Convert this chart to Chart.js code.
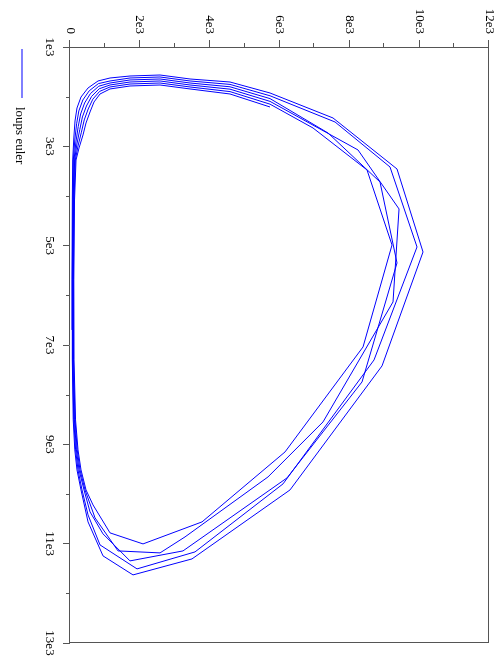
<!DOCTYPE html>
<html>
<head>
<meta charset="utf-8">
<title>loups euler</title>
<script src="https://cdn.jsdelivr.net/npm/chart.js@4.4.1/dist/chart.umd.min.js"></script>
<style>
    html, body { margin: 0; padding: 0; background: #fff; width: 500px; height: 656px; overflow: hidden; }
    /* the plot is drawn landscape and turned a quarter clockwise */
    #plotBox { position: absolute; left: 0; top: 0; width: 656px; height: 500px;
               transform-origin: 0 0; transform: translateX(500px) rotate(90deg); }
</style>
</head>
<body>
<div id="plotBox"><canvas id="loupsChart" width="656" height="500"></canvas></div>
<script>
// Axis ticks
var preyTickValues = [1000, 3000, 5000, 7000, 9000, 11000, 13000];
var preyTickLabels = ['1e3', '3e3', '5e3', '7e3', '9e3', '11e3', '13e3'];
var preyMinorTicks = [2000, 4000, 6000, 8000, 10000, 12000];
var wolfTickValues = [0, 2000, 4000, 6000, 8000, 10000, 12000];
var wolfTickLabels = ['0', '2e3', '4e3', '6e3', '8e3', '10e3', '12e3'];
var wolfMinorTicks = [1000, 3000, 5000, 7000, 9000, 11000];

// Euler trajectory, lap by lap (prey on x, wolves on y)
var preyLap1 = [2208, 1946, 1845, 1765, 1785, 1845, 1946, 2107, 2308, 2530, 2771, 3033, 3275,
    4080, 5690, 7301, 8508, 9112, 9515, 9918,
    10220, 10783, 11005, 10562, 9153, 7039, 4986, 3476, 2631];
var wolvesLap1 = [5728, 4582, 3437, 2578, 1718, 1146, 859, 687, 573, 458, 372, 258, 172,
    129, 109, 115, 158, 229, 315, 458,
    659, 1146, 2091, 3780, 6158, 8392, 9222, 8506, 6960];

var preyLap2 = [2151, 1898, 1805, 1725, 1745, 1805, 1894, 2051, 2248, 2469, 2715, 2993, 3275,
    4080, 5690, 7301, 8508, 9112, 9515, 9918,
    10481, 11146, 11186, 10864, 9656, 8549, 6133, 4261, 3073];
var wolvesLap2 = [5728, 4582, 3437, 2578, 1718, 1146, 848, 653, 521, 407, 326, 229, 152,
    115, 97, 100, 143, 206, 286, 430,
    716, 1375, 2578, 3294, 5671, 7246, 9251, 9423, 8248];

var preyLap3 = [2095, 1849, 1765, 1684, 1705, 1765, 1841, 1994, 2188, 2409, 2659, 2953, 3275,
    4080, 5690, 7301, 8508, 9112, 9515, 9918,
    10360, 10803, 11347, 11146, 9676, 7744, 5348, 3718, 2731];
var wolvesLap3 = [5728, 4582, 3437, 2578, 1718, 1146, 836, 619, 470, 355, 281, 198, 132,
    103, 86, 86, 126, 183, 258, 401,
    573, 945, 1718, 3236, 6215, 8363, 9365, 8878, 7389];

var preyLap4 = [2039, 1801, 1725, 1644, 1664, 1725, 1789, 1938, 2127, 2349, 2602, 2912, 3275,
    4080, 5690, 7301, 8508, 9112, 9515, 9918,
    10421, 11025, 11508, 11166, 9797, 7301, 5026, 3416, 2510];
var wolvesLap4 = [5728, 4582, 3437, 2578, 1718, 1146, 825, 584, 418, 304, 235, 169, 115,
    92, 74, 74, 109, 160, 229, 344,
    516, 859, 1919, 3580, 6100, 8707, 9938, 9165, 7590];

var preyLap5 = [1982, 1753, 1684, 1604, 1624, 1684, 1737, 1882, 2067, 2288, 2546, 2872, 3275,
    4080, 5690, 7301, 8508, 9112, 9515, 9918,
    10562, 11246, 11629, 11307, 9918, 7421, 5127, 3456, 2429];
var wolvesLap5 = [5728, 4582, 3437, 2578, 1718, 1146, 813, 550, 367, 252, 189, 137, 95,
    80, 66, 66, 92, 137, 200, 315,
    516, 945, 1804, 3494, 6301, 8936, 10110, 9365, 7532];

var preyLap6 = [1926, 1705, 1644, 1564, 1584, 1624, 1684, 1825, 2007, 2228, 2490, 2832, 3275,
    4080, 5690, 6697];
var wolvesLap6 = [5728, 4582, 3437, 2578, 1718, 1146, 802, 516, 315, 200, 143, 109, 77,
    66, 57, 57];

var seriesLabel = 'loups euler';

var LINE_BLUE = '#0000ff';
var AXIS_GREY = '#555555';
var SERIF = "'Liberation Serif', 'DejaVu Serif', serif";

function buildPoints() {
    var preyLaps = [preyLap1, preyLap2, preyLap3, preyLap4, preyLap5, preyLap6];
    var wolfLaps = [wolvesLap1, wolvesLap2, wolvesLap3, wolvesLap4, wolvesLap5, wolvesLap6];
    var pts = [];
    for (var i = 0; i < preyLaps.length; i++) {
        for (var j = 0; j < preyLaps[i].length; j++) {
            pts.push({ x: preyLaps[i][j], y: wolfLaps[i][j] });
        }
    }
    return pts;
}

// Top/right frame, short minor ticks and the legend
var framePlugin = {
    id: 'frameAndLegend',
    afterDraw: function(chart) {
        var ctx = chart.ctx, area = chart.chartArea;
        var xs = chart.scales.x, ys = chart.scales.y;
        ctx.save();
        ctx.strokeStyle = AXIS_GREY;
        ctx.lineWidth = 1;
        ctx.beginPath();
        ctx.moveTo(area.left, area.top + 0.5);
        ctx.lineTo(area.right, area.top + 0.5);
        ctx.moveTo(area.right - 0.5, area.top);
        ctx.lineTo(area.right - 0.5, area.bottom);
        preyMinorTicks.forEach(function(v) {
            var px = Math.round(xs.getPixelForValue(v)) + 0.5;
            ctx.moveTo(px, area.bottom);
            ctx.lineTo(px, area.bottom + 4);
        });
        wolfMinorTicks.forEach(function(v) {
            var py = Math.round(ys.getPixelForValue(v)) + 0.5;
            ctx.moveTo(area.left, py);
            ctx.lineTo(area.left - 4, py);
        });
        ctx.stroke();

        // legend entry
        ctx.strokeStyle = LINE_BLUE;
        ctx.beginPath();
        ctx.moveTo(49, 478);
        ctx.lineTo(98, 478);
        ctx.stroke();
        ctx.fillStyle = '#000';
        ctx.font = '13px ' + SERIF;
        ctx.textBaseline = 'alphabetic';
        ctx.fillText(seriesLabel, 107, 484);
        ctx.restore();
    }
};

var chart = new Chart(document.getElementById('loupsChart'), {
    type: 'scatter',
    data: {
        datasets: [{
            label: seriesLabel,
            data: buildPoints(),
            showLine: true,
            borderColor: LINE_BLUE,
            backgroundColor: LINE_BLUE,
            borderWidth: 1,
            pointRadius: 0,
            tension: 0,
            fill: false
        }]
    },
    options: {
        responsive: false,
        animation: false,
        layout: { padding: { top: 11, right: 13, left: 0, bottom: 0 } },
        plugins: {
            legend: { display: false },
            tooltip: { enabled: false }
        },
        scales: {
            x: {
                type: 'linear',
                position: 'bottom',
                min: 1000,
                max: 13000,
                afterBuildTicks: function(scale) {
                    scale.ticks = preyTickValues.map(function(v) { return { value: v }; });
                },
                afterFit: function(scale) {
                    scale.height = 70;
                    scale.paddingLeft = 0;
                    scale.paddingRight = 0;
                },
                ticks: {
                    autoSkip: false,
                    maxRotation: 0,
                    padding: 6,
                    color: '#000',
                    font: { family: SERIF, size: 13 },
                    callback: function(v, i) { return preyTickLabels[i]; }
                },
                grid: { drawOnChartArea: false, tickLength: 7, color: AXIS_GREY },
                border: { color: AXIS_GREY, width: 1 }
            },
            y: {
                type: 'linear',
                min: 0,
                max: 12000,
                afterBuildTicks: function(scale) {
                    scale.ticks = wolfTickValues.map(function(v) { return { value: v }; });
                },
                afterFit: function(scale) {
                    scale.width = 47;
                    scale.paddingTop = 0;
                    scale.paddingBottom = 0;
                },
                ticks: {
                    autoSkip: false,
                    padding: 6,
                    color: '#000',
                    font: { family: SERIF, size: 13 },
                    callback: function(v, i) { return wolfTickLabels[i]; }
                },
                grid: { drawOnChartArea: false, tickLength: 7, color: AXIS_GREY },
                border: { color: AXIS_GREY, width: 1 }
            }
        }
    },
    plugins: [framePlugin]
});
</script>
</body>
</html>
